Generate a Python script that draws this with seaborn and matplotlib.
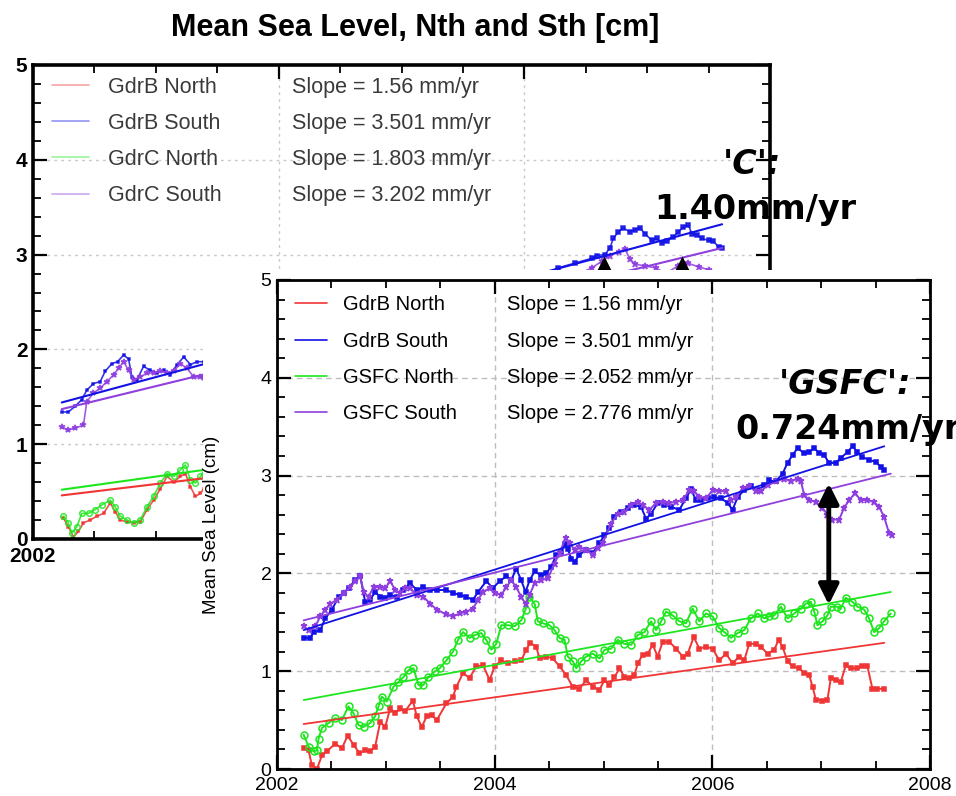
import numpy as np
import matplotlib
matplotlib.use('Agg')
import matplotlib.pyplot as plt
import seaborn as sns
from matplotlib.lines import Line2D
from matplotlib.ticker import MultipleLocator

# ---------------- data (year, cm) ----------------
# front chart : GdrB vs GSFC
fg_gdrb_north = [(2002.245,0.21),(2002.29,0.19),(2002.32,0.04),(2002.367,0.0),(2002.413,0.14),(2002.459,0.18),
    (2002.535,0.26),(2002.596,0.21),(2002.648,0.34),(2002.703,0.25),(2002.758,0.16),(2002.81,0.19),(2002.856,0.18),
    (2002.902,0.23),(2002.948,0.48),(2002.994,0.43),(2003.04,0.62),(2003.086,0.57),(2003.131,0.62),(2003.177,0.59),
    (2003.248,0.70),(2003.284,0.54),(2003.33,0.43),(2003.376,0.54),(2003.422,0.55),(2003.468,0.50),(2003.556,0.67),
    (2003.617,0.74),(2003.648,0.84),(2003.709,0.98),(2003.77,0.93),(2003.831,1.05),(2003.893,1.06),(2003.954,0.91),
    (2004.0,1.05),(2004.061,1.11),(2004.122,1.08),(2004.183,1.10),(2004.244,1.11),(2004.29,1.22),(2004.327,1.29),
    (2004.382,1.25),(2004.412,1.13),(2004.474,1.15),(2004.535,1.13),(2004.596,1.05),(2004.657,0.96),(2004.718,0.84),
    (2004.779,0.82),(2004.841,0.91),(2004.902,0.84),(2004.963,0.81),(2005.009,0.91),(2005.055,0.86),(2005.101,0.94),
    (2005.147,1.03),(2005.192,0.94),(2005.238,0.93),(2005.284,0.96),(2005.315,1.08),(2005.361,1.17),(2005.407,1.18),
    (2005.452,1.27),(2005.498,1.15),(2005.544,1.30),(2005.605,1.30),(2005.667,1.23),(2005.728,1.15),(2005.774,1.18),
    (2005.829,1.35),(2005.881,1.23),(2005.942,1.25),(2006.003,1.23),(2006.064,1.11),(2006.125,1.18),(2006.186,1.08),
    (2006.248,1.15),(2006.293,1.11),(2006.339,1.28),(2006.4,1.28),(2006.446,1.25),(2006.507,1.18),(2006.569,1.22),
    (2006.609,1.32),(2006.645,1.25),(2006.691,1.10),(2006.737,1.05),(2006.798,1.03),(2006.844,0.98),(2006.89,0.96),
    (2006.921,0.84),(2006.951,0.71),(2007.012,0.70),(2007.058,0.71),(2007.089,0.93),(2007.135,0.91),(2007.18,0.89),
    (2007.226,1.06),(2007.272,1.03),(2007.333,1.03),(2007.379,1.05),(2007.425,1.05),(2007.471,0.82),(2007.517,0.82),
    (2007.578,0.82)]

fg_gdrb_south = [(2002.245,1.34),(2002.306,1.34),(2002.336,1.40),(2002.398,1.42),(2002.443,1.54),(2002.505,1.63),
    (2002.566,1.76),(2002.612,1.80),(2002.657,1.85),(2002.719,1.93),(2002.765,1.97),(2002.81,1.71),(2002.856,1.73),
    (2002.902,1.81),(2002.948,1.76),(2002.994,1.75),(2003.04,1.78),(2003.101,1.76),(2003.162,1.83),(2003.223,1.90),
    (2003.284,1.83),(2003.346,1.86),(2003.407,1.83),(2003.468,1.83),(2003.556,1.83),(2003.617,1.80),(2003.678,1.78),
    (2003.74,1.76),(2003.801,1.73),(2003.847,1.81),(2003.923,1.92),(2003.984,1.85),(2004.045,1.92),(2004.107,1.97),
    (2004.153,1.93),(2004.198,2.05),(2004.244,1.93),(2004.284,1.81),(2004.321,1.93),(2004.367,2.02),(2004.428,1.98),
    (2004.474,2.00),(2004.52,2.07),(2004.566,2.19),(2004.611,2.22),(2004.642,2.30),(2004.672,2.25),(2004.703,2.15),
    (2004.734,2.12),(2004.779,2.19),(2004.841,2.24),(2004.902,2.21),(2004.963,2.31),(2005.009,2.39),(2005.055,2.46),
    (2005.101,2.58),(2005.162,2.63),(2005.223,2.67),(2005.284,2.70),(2005.345,2.68),(2005.391,2.56),(2005.437,2.61),
    (2005.498,2.72),(2005.559,2.70),(2005.621,2.68),(2005.697,2.65),(2005.758,2.77),(2005.804,2.86),(2005.85,2.75),
    (2005.896,2.75),(2005.957,2.77),(2006.018,2.78),(2006.079,2.77),(2006.14,2.72),(2006.186,2.65),(2006.232,2.78),
    (2006.293,2.85),(2006.355,2.89),(2006.416,2.85),(2006.477,2.90),(2006.523,2.95),(2006.584,2.94),(2006.645,3.02),
    (2006.691,3.13),(2006.737,3.21),(2006.783,3.28),(2006.844,3.23),(2006.89,3.24),(2006.936,3.28),(2006.982,3.23),
    (2007.027,3.21),(2007.073,3.13),(2007.135,3.13),(2007.18,3.18),(2007.242,3.24),(2007.288,3.30),(2007.333,3.24),
    (2007.379,3.19),(2007.44,3.16),(2007.502,3.14),(2007.547,3.09),(2007.578,3.06)]

fg_gsfc_north = [(2002.245,0.35),(2002.29,0.23),(2002.336,0.18),(2002.367,0.19),(2002.382,0.31),(2002.413,0.42),
    (2002.474,0.47),(2002.535,0.52),(2002.596,0.50),(2002.657,0.64),(2002.703,0.57),(2002.749,0.45),(2002.795,0.43),
    (2002.856,0.47),(2002.902,0.54),(2002.933,0.64),(2002.963,0.74),(2003.009,0.69),(2003.07,0.84),(2003.116,0.89),
    (2003.162,0.94),(2003.208,1.01),(2003.254,1.03),(2003.3,0.86),(2003.346,0.86),(2003.391,0.94),(2003.453,1.00),
    (2003.495,1.03),(2003.556,1.11),(2003.617,1.20),(2003.663,1.32),(2003.709,1.40),(2003.77,1.34),(2003.816,1.37),
    (2003.877,1.39),(2003.923,1.32),(2003.969,1.22),(2004.015,1.28),(2004.061,1.47),(2004.122,1.47),(2004.183,1.46),
    (2004.244,1.52),(2004.284,1.63),(2004.315,1.76),(2004.367,1.69),(2004.397,1.51),(2004.443,1.49),(2004.504,1.47),
    (2004.55,1.42),(2004.596,1.34),(2004.642,1.32),(2004.672,1.15),(2004.718,1.10),(2004.749,1.03),(2004.795,1.10),
    (2004.841,1.15),(2004.902,1.18),(2004.963,1.13),(2005.009,1.22),(2005.07,1.23),(2005.131,1.32),(2005.192,1.28),
    (2005.254,1.27),(2005.315,1.37),(2005.376,1.40),(2005.437,1.51),(2005.483,1.42),(2005.529,1.51),(2005.575,1.61),
    (2005.636,1.57),(2005.697,1.51),(2005.758,1.49),(2005.819,1.64),(2005.881,1.51),(2005.942,1.59),(2006.003,1.56),
    (2006.064,1.44),(2006.11,1.40),(2006.171,1.34),(2006.232,1.39),(2006.293,1.42),(2006.355,1.54),(2006.416,1.59),
    (2006.477,1.54),(2006.523,1.56),(2006.569,1.57),(2006.63,1.66),(2006.691,1.54),(2006.752,1.59),(2006.814,1.64),
    (2006.859,1.69),(2006.905,1.71),(2006.936,1.61),(2006.966,1.47),(2007.012,1.51),(2007.058,1.57),(2007.089,1.66),
    (2007.15,1.66),(2007.18,1.64),(2007.226,1.75),(2007.287,1.71),(2007.333,1.66),(2007.395,1.63),(2007.44,1.54),
    (2007.486,1.40),(2007.532,1.44),(2007.578,1.51),(2007.639,1.59)]

fg_gsfc_south = [(2002.245,1.46),(2002.29,1.42),(2002.352,1.46),(2002.398,1.56),(2002.443,1.63),(2002.489,1.69),
    (2002.55,1.73),(2002.612,1.80),(2002.673,1.86),(2002.719,1.92),(2002.765,1.97),(2002.795,1.81),(2002.841,1.76),
    (2002.887,1.86),(2002.948,1.86),(2002.994,1.85),(2003.04,1.92),(2003.086,1.83),(2003.131,1.80),(2003.177,1.85),
    (2003.223,1.85),(2003.284,1.78),(2003.346,1.76),(2003.407,1.69),(2003.468,1.63),(2003.556,1.58),(2003.617,1.56),
    (2003.678,1.59),(2003.74,1.61),(2003.801,1.64),(2003.847,1.73),(2003.893,1.81),(2003.954,1.85),(2004.0,1.80),
    (2004.061,1.78),(2004.107,1.86),(2004.153,1.93),(2004.198,1.86),(2004.244,1.76),(2004.284,1.69),(2004.321,1.78),
    (2004.367,1.90),(2004.428,1.93),(2004.489,1.95),(2004.55,2.10),(2004.596,2.21),(2004.651,2.36),(2004.688,2.31),
    (2004.734,2.24),(2004.779,2.27),(2004.841,2.24),(2004.902,2.19),(2004.948,2.26),(2004.994,2.31),(2005.07,2.51),
    (2005.131,2.61),(2005.192,2.63),(2005.254,2.70),(2005.315,2.73),(2005.361,2.70),(2005.422,2.65),(2005.483,2.72),
    (2005.544,2.73),(2005.605,2.72),(2005.667,2.73),(2005.728,2.75),(2005.789,2.85),(2005.835,2.84),(2005.881,2.78),
    (2005.942,2.77),(2006.003,2.85),(2006.064,2.84),(2006.125,2.84),(2006.171,2.75),(2006.217,2.78),(2006.278,2.87),
    (2006.339,2.89),(2006.4,2.84),(2006.446,2.84),(2006.507,2.90),(2006.584,2.94),(2006.661,2.97),(2006.722,2.94),
    (2006.783,2.97),(2006.814,2.94),(2006.844,2.80),(2006.89,2.75),(2006.951,2.73),(2007.012,2.67),(2007.058,2.60),
    (2007.104,2.55),(2007.165,2.55),(2007.211,2.67),(2007.257,2.75),(2007.312,2.82),(2007.364,2.75),(2007.425,2.75),
    (2007.486,2.73),(2007.532,2.68),(2007.578,2.58),(2007.624,2.41),(2007.654,2.39)]

# fitted lines of the front chart: (start year, start cm, end year, end cm)
fg_trends = [(2002.245, 0.46, 2007.58, 1.29), (2002.245, 1.42, 2007.58, 3.30),
             (2002.245, 0.705, 2007.64, 1.81), (2002.245, 1.52, 2007.64, 3.02)]
fg_names = ['GdrB North', 'GdrB South', 'GSFC North', 'GSFC South']
fg_slopes = ['Slope = 1.56 mm/yr', 'Slope = 3.501 mm/yr', 'Slope = 2.052 mm/yr', 'Slope = 2.776 mm/yr']

# back chart : GdrB vs GdrC (only the uncovered parts)
bg_gdrb_north = [(2002.248,0.22),(2002.288,0.13),(2002.329,0.02),(2002.37,0.08),(2002.411,0.17),(2002.465,0.20),
    (2002.52,0.24),(2002.574,0.27),(2002.629,0.38),(2002.669,0.29),(2002.71,0.20),(2002.765,0.18),(2002.819,0.17),
    (2002.873,0.18),(2002.928,0.31),(2002.982,0.41),(2003.037,0.53),(2003.091,0.66),(2003.146,0.60),(2003.2,0.66),
    (2003.241,0.69),(2003.282,0.55),(2003.322,0.45),(2003.363,0.48),(2003.39,0.53)]
bg_gdrb_south = [(2002.234,1.34),(2002.288,1.34),(2002.343,1.40),(2002.397,1.47),(2002.438,1.57),(2002.492,1.64),
    (2002.547,1.66),(2002.588,1.77),(2002.642,1.85),(2002.688,1.87),(2002.737,1.94),(2002.778,1.90),(2002.805,1.71),
    (2002.846,1.68),(2002.9,1.82),(2002.955,1.78),(2003.01,1.75),(2003.064,1.78),(2003.118,1.73),(2003.173,1.84),
    (2003.227,1.92),(2003.282,1.84),(2003.336,1.87),(2003.39,1.87)]
bg_gdrc_north = [(2002.248,0.24),(2002.288,0.17),(2002.316,0.06),(2002.357,0.13),(2002.397,0.27),(2002.452,0.27),
    (2002.506,0.31),(2002.561,0.36),(2002.629,0.41),(2002.669,0.34),(2002.71,0.24),(2002.765,0.20),(2002.819,0.17),
    (2002.873,0.20),(2002.928,0.34),(2002.982,0.45),(2003.037,0.59),(2003.091,0.69),(2003.146,0.66),(2003.2,0.73),
    (2003.241,0.78),(2003.282,0.62),(2003.322,0.59),(2003.363,0.66),(2003.39,0.69)]
bg_gdrc_south = [(2002.234,1.18),(2002.288,1.15),(2002.343,1.17),(2002.411,1.20),(2002.438,1.45),(2002.492,1.54),
    (2002.547,1.59),(2002.601,1.66),(2002.656,1.73),(2002.697,1.80),(2002.737,1.87),(2002.778,1.78),(2002.819,1.68),
    (2002.873,1.71),(2002.928,1.75),(2002.982,1.75),(2003.037,1.77),(2003.091,1.75),(2003.146,1.77),(2003.2,1.85),
    (2003.254,1.80),(2003.309,1.71),(2003.363,1.71),(2003.39,1.70)]
bg_gdrb_south_late = [(2006.2,2.80),(2006.275,2.86),(2006.411,2.91),(2006.547,2.96),(2006.588,2.99),(2006.656,3.0),
    (2006.697,3.07),(2006.724,3.17),(2006.765,3.24),(2006.806,3.28),(2006.86,3.24),(2006.901,3.26),(2006.942,3.28),
    (2006.983,3.22),(2007.037,3.15),(2007.078,3.17),(2007.119,3.12),(2007.159,3.14),(2007.214,3.19),(2007.255,3.24),
    (2007.295,3.29),(2007.336,3.31),(2007.364,3.22),(2007.404,3.21),(2007.445,3.17),(2007.5,3.15),(2007.54,3.14),
    (2007.581,3.08),(2007.608,3.07)]
bg_gdrc_south_late = [(2006.45,2.80),(2006.55,2.86),(2006.63,2.93),(2006.70,2.99),(2006.77,3.03),(2006.82,3.06),
    (2006.86,2.95),(2006.90,2.90),(2006.98,2.88),(2007.07,2.86),(2007.15,2.80),(2007.25,2.88),(2007.33,2.91),
    (2007.42,2.87),(2007.5,2.84),(2007.6,2.80)]
bg_trends = [(2002.234, 0.46, 2007.61, 1.30), (2002.234, 1.44, 2007.61, 3.32),
             (2002.234, 0.52, 2007.61, 1.49), (2002.234, 1.37, 2007.61, 3.07)]
bg_names = ['GdrB North', 'GdrB South', 'GdrC North', 'GdrC South']
bg_slopes = ['Slope = 1.56 mm/yr', 'Slope = 3.501 mm/yr', 'Slope = 1.803 mm/yr', 'Slope = 3.202 mm/yr']

# arrow heads drawn on the back chart, double arrow on the front one
bg_arrow_years = [2006.65, 2007.28]
bg_arrow_cm = [2.89, 2.89]
fg_arrow_year = 2007.07
fg_arrow_cm = (1.68, 2.92)

colors = ['#f03535', '#1212e6', '#1ee61e', '#8f3ee0']
markers = [('s', 2.5, None), ('s', 2.5, None), ('o', 5, 'none'), ('*', 5, None)]

sns.set_theme(style='ticks')
plt.rcParams['font.family'] = ['Liberation Sans', 'DejaVu Sans']
plt.rcParams.update({'text.color': 'black', 'axes.labelcolor': 'black',
                     'xtick.color': 'black', 'ytick.color': 'black'})

fig = plt.figure(figsize=(9.56, 7.96), dpi=100)
W, H = 956, 796


def series(ax, pts, color, mk, lw=1.4, alpha=1.0):
    xy = np.array(pts)
    m, ms, mfc = mk
    sns.lineplot(x=xy[:, 0], y=xy[:, 1], ax=ax, color=color, lw=lw, alpha=alpha,
                 marker=m, markersize=ms, markerfacecolor=color if mfc is None else mfc,
                 markeredgecolor=color, markeredgewidth=1.1, sort=False, estimator=None)


def trend(ax, tr, color, lw=1.3):
    x0, y0, x1, y1 = tr
    sns.lineplot(x=[x0, x1], y=[y0, y1], ax=ax, color=color, lw=lw, estimator=None)


def style_axes(ax, spine_w, tick_font, bold, xpad):
    ax.set_xlim(2002, 2008)
    ax.set_ylim(0, 5)
    ax.set_xticks([2002, 2004, 2006, 2008])
    ax.xaxis.set_minor_locator(MultipleLocator(0.5))
    ax.yaxis.set_major_locator(MultipleLocator(1))
    ax.yaxis.set_minor_locator(MultipleLocator(0.2))
    ax.tick_params(which='both', direction='in', top=True, right=True, colors='black')
    ax.tick_params(which='major', length=10, width=1.6, labelsize=tick_font, pad=4)
    ax.tick_params(axis='x', which='major', pad=xpad)
    ax.tick_params(which='minor', length=6, width=1.3)
    for s in ax.spines.values():
        s.set_visible(True)
        s.set_linewidth(spine_w)
        s.set_color('black')
    if bold:
        for t in ax.get_xticklabels() + ax.get_yticklabels():
            t.set_fontweight('bold')


# ---------------- back chart ----------------
ax_bg = fig.add_axes([33 / W, 1 - 539 / H, 737 / W, 474 / H], zorder=1)
ax_bg.grid(True, which='major', ls=(0, (2, 3)), color='#c8c8c8', lw=1)
for pts, c, mk in zip([bg_gdrb_north, bg_gdrb_south, bg_gdrc_north, bg_gdrc_south], colors, markers):
    series(ax_bg, pts, c, (mk[0], mk[1] * 0.8, mk[2]), lw=1.2, alpha=0.85)
series(ax_bg, bg_gdrb_south_late, colors[1], markers[1], lw=1.2, alpha=0.85)
series(ax_bg, bg_gdrc_south_late, colors[3], markers[3], lw=1.2, alpha=0.85)
for tr, c in zip(bg_trends, colors):
    trend(ax_bg, tr, c, lw=1.5)
sns.scatterplot(x=bg_arrow_years, y=bg_arrow_cm, ax=ax_bg, marker='^', s=170, color='black',
                linewidth=0, zorder=5)
style_axes(ax_bg, 2.6, 15, True, 6)
ax_bg.set_xlabel('')
ax_bg.set_ylabel('')
h_bg = [Line2D([], [], color=c, lw=1.2, alpha=0.45) for c in colors]
leg = ax_bg.legend(h_bg, bg_names, loc='upper left', bbox_to_anchor=(0.026, 0.975), frameon=False,
                   fontsize=15.5, handlelength=1.7, handletextpad=0.9, labelspacing=0.70,
                   borderaxespad=0, borderpad=0, labelcolor='#3a3a3a')
ax_bg.add_artist(leg)
ax_bg.legend([Line2D([], [], alpha=0) for _ in bg_slopes], bg_slopes, loc='upper left',
             bbox_to_anchor=(0.351, 0.975), frameon=False, fontsize=15.5, handlelength=0,
             handletextpad=0, labelspacing=0.70, borderaxespad=0, borderpad=0, labelcolor='#3a3a3a')

# ---------------- paper of the front chart ----------------
paper = fig.add_axes([203 / W, 0, 753 / W, 526 / H], zorder=2)
paper.set_facecolor('white')
paper.set_xticks([])
paper.set_yticks([])
for s in paper.spines.values():
    s.set_visible(False)

# ---------------- front chart ----------------
ax = fig.add_axes([277 / W, 1 - 769 / H, 653 / W, 489 / H], zorder=3)
ax.grid(True, which='major', ls=(0, (4, 3)), color='#bdbdbd', lw=1)
for pts, c, mk in zip([fg_gdrb_north, fg_gdrb_south, fg_gsfc_north, fg_gsfc_south], colors, markers):
    series(ax, pts, c, mk)
for tr, c in zip(fg_trends, colors):
    trend(ax, tr, c)
ax.annotate('', xy=(fg_arrow_year, fg_arrow_cm[1]), xytext=(fg_arrow_year, fg_arrow_cm[0]),
            arrowprops=dict(arrowstyle='<|-|>,head_length=0.6,head_width=0.3', color='black',
                            lw=3.5, shrinkA=0, shrinkB=0, mutation_scale=20), zorder=6)
style_axes(ax, 2.0, 14, False, 6)
ax.set_xlabel('')
ax.set_ylabel('Mean Sea Level (cm)', fontsize=13.5)
ax.yaxis.set_label_coords(-0.088, 0.5)
h_fg = [Line2D([], [], color=c, lw=1.2) for c in colors]
leg = ax.legend(h_fg, fg_names, loc='upper left', bbox_to_anchor=(0.0276, 0.969), frameon=False,
                fontsize=14.5, handlelength=1.6, handletextpad=0.8, labelspacing=0.865,
                borderaxespad=0, borderpad=0, labelcolor='black')
ax.add_artist(leg)
ax.legend([Line2D([], [], alpha=0) for _ in fg_slopes], fg_slopes, loc='upper left',
          bbox_to_anchor=(0.352, 0.969), frameon=False, fontsize=14.5, handlelength=0,
          handletextpad=0, labelspacing=0.865, borderaxespad=0, borderpad=0, labelcolor='black')

# ---------------- slide texts ----------------
fig.text(415 / W, 1 - 28 / H, 'Mean Sea Level, Nth and Sth [cm]', ha='center', va='center',
         fontsize=22, fontweight='bold', color='black', zorder=10)
note = dict(ha='center', va='center', fontsize=24, fontweight='bold', family=['DejaVu Sans'],
            color='black', zorder=10)
fig.text(752 / W, 1 - 165 / H, "'C':", style='italic', **note)
fig.text(755 / W, 1 - 210 / H, '1.40mm/yr', **note)
fig.text(845 / W, 1 - 384 / H, "'GSFC':", style='italic', **note)
fig.text(848 / W, 1 - 429 / H, '0.724mm/yr', **note)

fig.savefig('out.png', dpi=100)
